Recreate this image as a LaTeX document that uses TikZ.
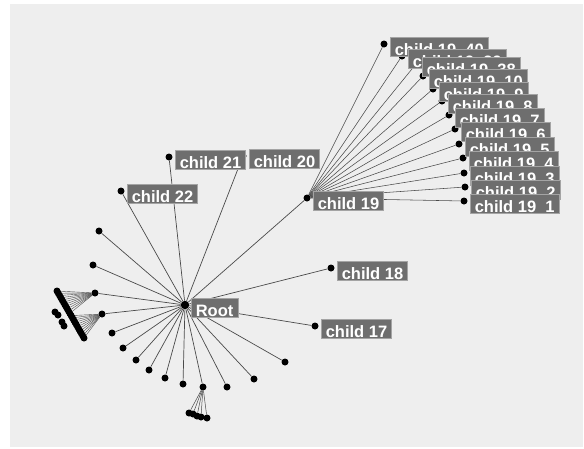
\documentclass[tikz,border=0pt]{standalone}
\usepackage{fontspec}
\setmainfont{Liberation Sans}
\usetikzlibrary{calc}
\definecolor{bg}{HTML}{EEEEEE}
\definecolor{lblfill}{HTML}{6E6E6E}
\definecolor{lbledge}{HTML}{A4A4A4}
\definecolor{edgec}{HTML}{4A4A4A}
\begin{document}
\begin{tikzpicture}[x=1pt,y=-1pt,
  dot/.style={circle,fill=black,inner sep=0pt,minimum size=7pt},
  hub/.style={circle,fill=black,inner sep=0pt,minimum size=8.5pt},
  edge/.style={draw=edgec,line width=0.7pt},
  lbl/.style={fill=lblfill,draw=lbledge,line width=0.6pt,text=white,
    font=\fontsize{16.5}{18}\selectfont\bfseries,inner xsep=4.5pt,inner ysep=1pt,
    text height=16.5pt,text depth=0.5pt,anchor=west}]
\useasboundingbox (0,0) rectangle (584,448);
\fill[bg] (10,4) rectangle (583,447);

% root
\node[hub] (r) at (185,305) {};

% unlabeled children of root
\foreach \n/\x/\y in {u1/99/231,u2/93/265,u3/95/293,u4/102/314,u5/112/333,
  u6/123/348,u7/136/360,u8/149/370,u9/165/378,u10/183/384,u11/203/387,
  u12/227/387,u13/254/379,u14/285/362}{
  \node[dot] (\n) at (\x,\y) {};
  \draw[edge] (r) -- (\n);
}

% labeled children of root
\foreach \n/\x/\y in {c17/315/326,c18/331/268,c19/307/198,c20/243/156,c21/169/157,c22/121/191}{
  \node[dot] (\n) at (\x,\y) {};
  \draw[edge] (r) -- (\n);
}

% fan A and fan B (left)
\foreach \i in {0,...,10}{
  \node[dot] (fa\i) at ($(57,291)!{\i/21}!(84,338)$) {};
  \draw[edge,line width=0.4pt] (u3) -- (fa\i);
}
\foreach \i in {11,...,21}{
  \node[dot] (fb\i) at ($(57,291)!{\i/21}!(84,338)$) {};
  \draw[edge,line width=0.4pt] (u4) -- (fb\i);
}
\foreach \n/\x/\y in {g1/55/312,g2/58/315,g3/62/322,g4/64/326}{
  \node[dot] (\n) at (\x,\y) {};
}

% fan C (bottom)
\foreach \n/\x/\y in {fc1/189/413,fc2/193/414,fc3/197/416,fc4/201/417,fc5/207/418}{
  \node[dot] (\n) at (\x,\y) {};
  \draw[edge,line width=0.5pt] (u11) -- (\n);
}

% children of child 19
\foreach \n/\x/\y in {s1/464/201,s2/465/187,s3/464/173,s4/463/158,s5/459/144,
  s6/455/129,s7/449/115,s8/442/101,s9/433/89,s10/423/76,s38/416/64,s39/402/56,s40/384/44}{
  \node[dot] (\n) at (\x,\y) {};
  \draw[edge,line width=0.55pt] (c19) -- (\n);
}

% labels
\node[lbl] (lr) at ([xshift=6pt,yshift=-3pt]r.center) {Root};
\node[lbl] (l17) at ([xshift=6pt,yshift=-3pt]c17.center) {child 17};
\node[lbl] (l18) at ([xshift=6pt,yshift=-3pt]c18.center) {child 18};
\node[lbl] (l20) at ([xshift=6pt,yshift=-3pt]c20.center) {child 20};
\node[lbl] (l21) at ([xshift=6pt,yshift=-3pt]c21.center) {child 21};
\node[lbl] (l22) at ([xshift=6pt,yshift=-3pt]c22.center) {child 22};
\node[lbl] (l19) at ([xshift=6pt,yshift=-3pt]c19.center) {child 19};
\foreach \k in {40,39,38,10,9,8,7,6,5,4,3,2,1}{
  \node[lbl] (ls\k) at ([xshift=6pt,yshift=-3pt]s\k.center) {child 19~~\k};
}
\end{tikzpicture}
\end{document}
